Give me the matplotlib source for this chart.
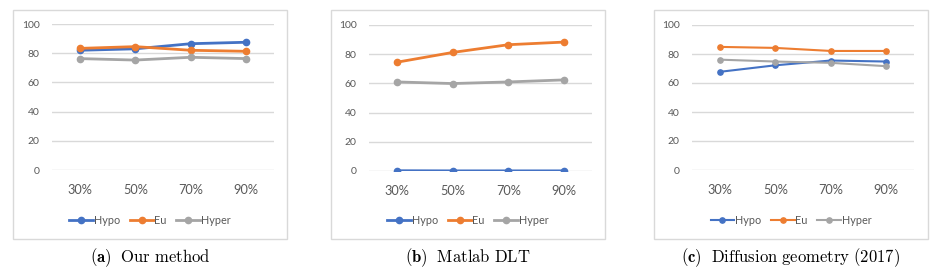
import matplotlib.pyplot as plt
from matplotlib.patches import Rectangle

plt.rcParams['mathtext.fontset'] = 'cm'
plt.rcParams['font.family'] = ['Lato', 'DejaVu Sans']

categories = ['30%', '50%', '70%', '90%']
series_names = ['Hypo', 'Eu', 'Hyper']
colors = ['#4472C4', '#ED7D31', '#A5A5A5']

ours_hypo = [82, 83, 86.5, 87.5]
ours_eu = [83.3, 84.5, 82, 81.3]
ours_hyper = [76.3, 75.3, 77.2, 76.3]

dlt_hypo = [0.2, 0.1, 0.1, 0.1]
dlt_eu = [74.5, 81.2, 86.5, 88.3]
dlt_hyper = [61, 59.9, 61, 62.4]

diff_hypo = [67.7, 72.2, 75.5, 74.8]
diff_eu = [84.9, 84.2, 82.1, 82.1]
diff_hyper = [76.1, 74.8, 73.9, 71.6]

captions = [r'$\mathbf{(a)}\ \ \mathrm{Our\ method}$',
            r'$\mathbf{(b)}\ \ \mathrm{Matlab\ DLT}$',
            r'$\mathbf{(c)}\ \ \mathrm{Diffusion\ geometry\ (2017)}$']

W, H = 939, 278
fig = plt.figure(figsize=(W / 100, H / 100), dpi=100)

# pixel layout: box (x0, x1), plot (x0, x1, y_top, y_bottom)
panels = [
    dict(data=[ours_hypo, ours_eu, ours_hyper], box=(13, 287), plot=(52, 274, 24, 170), lw=2.0, ms=4.5),
    dict(data=[dlt_hypo, dlt_eu, dlt_hyper], box=(331, 605), plot=(369, 592, 25, 171), lw=2.0, ms=4.5),
    dict(data=[diff_hypo, diff_eu, diff_hyper], box=(654, 928), plot=(692, 914, 25, 170), lw=1.5, ms=3.8),
]

text_col = '#595959'
for i, p in enumerate(panels):
    bx0, bx1 = p['box']
    fig.patches.append(Rectangle((bx0 / W, 1 - 239 / H), (bx1 - bx0) / W, (239 - 10) / H,
                                 transform=fig.transFigure, fill=True, facecolor='white',
                                 edgecolor='#D9D9D9', linewidth=1.0, zorder=-5))
    px0, px1, pyt, pyb = p['plot']
    ax = fig.add_axes([px0 / W, 1 - pyb / H, (px1 - px0) / W, (pyb - pyt) / H])
    ax.set_facecolor('none')
    x = range(len(categories))
    for name, vals, c in zip(series_names, p['data'], colors):
        ax.plot(x, vals, color=c, lw=p['lw'], marker='o', ms=p['ms'], label=name)
    ax.set_xlim(-0.5, 3.5)
    ax.set_ylim(0, 100)
    ax.set_yticks([0, 20, 40, 60, 80, 100])
    ax.set_xticks(list(x))
    ax.set_xticklabels(categories)
    ax.grid(axis='y', color='#D9D9D9', lw=1.0)
    ax.set_axisbelow(True)
    for s in ax.spines.values():
        s.set_visible(False)
    ax.tick_params(length=0, colors=text_col)
    ax.tick_params(axis='y', labelsize=7.5, pad=9)
    ax.tick_params(axis='x', labelsize=9.2, pad=10)
    ax.legend(loc='center', bbox_to_anchor=((bx0 + bx1) / 2 / W, 1 - 220 / H),
              bbox_transform=fig.transFigure, ncol=3, frameon=False, fontsize=7.8,
              handlelength=2.2, handletextpad=0.05, columnspacing=0.9, labelcolor=text_col)
    fig.text((bx0 + bx1) / 2 / W, 1 - 258 / H, captions[i], ha='center', va='center', fontsize=12)

fig.savefig('out.png', dpi=100)
